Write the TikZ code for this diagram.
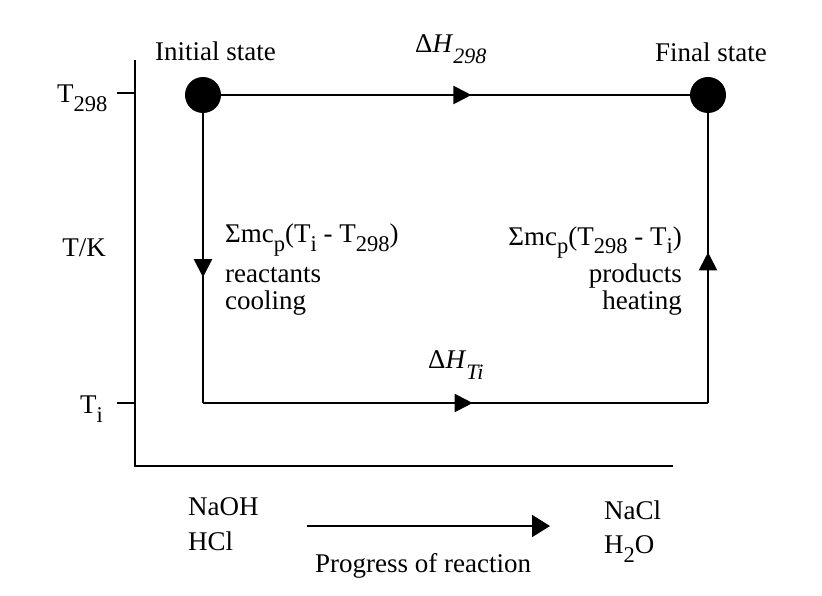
\documentclass[tikz,border=0pt]{standalone}
\usepackage{fontspec}
\setmainfont{Liberation Serif}
\usetikzlibrary{arrows.meta, decorations.markings}

% lowered subscripts in text font
\newcommand{\lowsub}[1]{\raisebox{-9pt}{\fontsize{22.5}{22.5}\selectfont #1}}
\newcommand{\itsub}[1]{\raisebox{-11pt}{\fontsize{22}{22}\selectfont\itshape #1}}

\begin{document}
\begin{tikzpicture}[
    x=1pt, y=-1pt,
    font=\fontsize{27}{32}\selectfont,
    >={Triangle[length=18pt, width=18pt]},
    % Styles
    state/.style={circle, fill=black, minimum size=36pt, inner sep=0pt},
    txt/.style={inner sep=0pt, anchor=base west},
    rtxt/.style={inner sep=0pt, anchor=base east},
    axisline/.style={line width=2.4pt},
    cycleline/.style={line width=2pt, postaction={decorate},
        decoration={markings, mark=at position #1 with {\arrow{>}}}},
    reaction/.style={->, line width=2pt, >={Triangle[length=18pt, width=22pt]}}
]
\useasboundingbox (0,0) rectangle (822,596);

% ----------------------------------------------------
% Axes and ticks
% ----------------------------------------------------
\coordinate (ytop) at (135,60);
\coordinate (origin) at (135,466);
\coordinate (xend) at (673,466);
\draw[axisline] (ytop) -- (origin) -- (xend);

\coordinate (tickhi) at (117,93);
\coordinate (ticklo) at (117,403);
\draw[axisline] (tickhi) -- (tickhi -| origin);
\draw[axisline] (ticklo) -- (ticklo -| origin);

\node[txt] (thi) at (57,103) {T\lowsub{298}};
\node[rtxt] (tk) at (106,257) {T/K};
\node[txt] (tlo) at (80,413) {T\lowsub{i}};

% ----------------------------------------------------
% States and the cycle
% ----------------------------------------------------
\node[state] (init) at (203,95) {};
\node[state] (final) at (708,95) {};
\coordinate (lowleft) at (203,403);
\coordinate (lowright) at (708,403);

\draw[cycleline=0.534] (init) -- (final);
\draw[cycleline=0.566] (init) -- (lowleft);
\draw[cycleline=0.534] (lowleft) -- (lowright);
\draw[cycleline=0.52] (lowright) -- (final);

\node[txt] (initlbl) at (155,61) {Initial state};
\node[txt] (finallbl) at (655,62) {Final state};
\node[txt] (dh298) at (415,53) {Δ\textit{H}\itsub{298}};
\node[txt] (dhti) at (428,368) {Δ\textit{H}\itsub{Ti}};

% Cooling / heating labels
\node[txt] (coolsum) at (225,243) {Σmc\lowsub{p}(T\lowsub{i} - T\lowsub{298})};
\node[txt] (coolwho) at (225,282) {reactants};
\node[txt] (coolhow) at (225,309) {cooling};

\node[rtxt] (heatsum) at (682,245) {Σmc\lowsub{p}(T\lowsub{298} - T\lowsub{i})};
\node[rtxt] (heatwho) at (682,282) {products};
\node[rtxt] (heathow) at (682,309) {heating};

% ----------------------------------------------------
% Reaction coordinate
% ----------------------------------------------------
\node[txt] (naoh) at (188,515) {NaOH};
\node[txt] (hcl) at (188,550) {HCl};
\node[txt] (nacl) at (604,519) {NaCl};
\node[txt] (water) at (604,553) {H\lowsub{2}O};

\coordinate (rstart) at (307,526);
\coordinate (rend) at (550,526);
\draw[reaction] (rstart) -- (rend);
\node[txt] (progress) at (315,572) {Progress of reaction};

\end{tikzpicture}
\end{document}
